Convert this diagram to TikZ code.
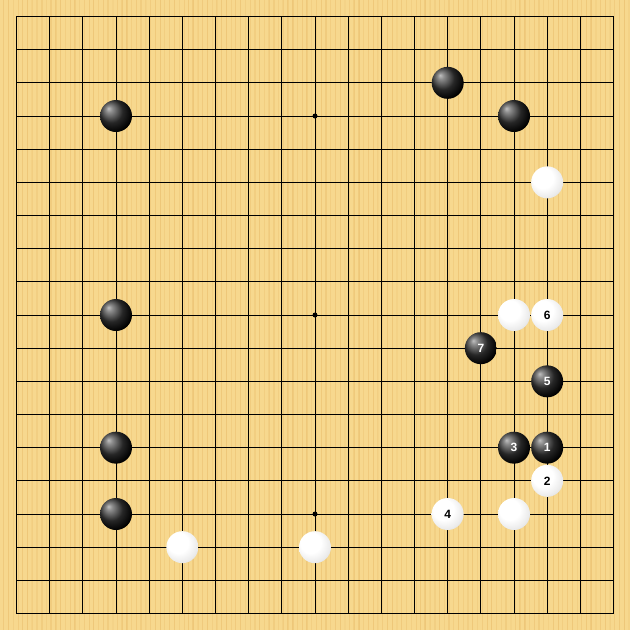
\documentclass[tikz,border=0pt]{standalone}
\usepackage{fontspec}
\setmainfont{Liberation Sans}
\definecolor{wood}{HTML}{F7D88E}
\definecolor{woodstripe}{HTML}{EEC677}
\definecolor{gridc}{HTML}{000000}
\pgfdeclareradialshading{blackstone}{\pgfpoint{-12bp}{12bp}}{color(0bp)=(black!25); color(5bp)=(black!45); color(18bp)=(black!85); color(30bp)=(black); color(42bp)=(black); color(50bp)=(black!80)}
\pgfdeclareradialshading{whitestone}{\pgfpoint{-10bp}{10bp}}{color(0bp)=(white); color(16bp)=(white); color(28bp)=(black!8); color(40bp)=(black!24); color(50bp)=(black!45)}
\tikzset{
  stoneb/.style={circle, minimum size=32pt, inner sep=0pt, shading=blackstone, text=white, font=\fontsize{12}{12}\selectfont\bfseries},
  stonew/.style={circle, minimum size=32pt, inner sep=0pt, shading=whitestone, text=black, font=\fontsize{12}{12}\selectfont\bfseries},
  gridline/.style={draw=gridc, line width=1pt},
  hoshi/.style={circle, fill=gridc, minimum size=5pt, inner sep=0pt}
}
\begin{document}
\begin{tikzpicture}[x=1pt,y=-1pt]
\useasboundingbox (0,0) rectangle (630,630);
\fill[wood] (0,0) rectangle (630,630);
% wood grain
\foreach \i in {0,...,260}{
  \pgfmathsetmacro{\xx}{mod(\i*47.37+13,630)}
  \pgfmathsetmacro{\ww}{0.4+mod(\i*7,5)*0.25}
  \pgfmathsetmacro{\oo}{0.25+mod(\i*13,7)*0.07}
  \draw[woodstripe, line width=\ww pt, opacity=\oo] (\xx,0) -- (\xx,630);
}
\begin{scope}[shift={(16.5,16.5)}, x=33.1667pt, y=-33.1667pt]
  \foreach \k in {1,...,17}{
    \draw[gridline] (\k,0) -- (\k,18);
    \draw[gridline] (0,\k) -- (18,\k);
  }
  \draw[draw=gridc, line width=1.6pt] (0,0) rectangle (18,18);
  \node[hoshi] (h1) at (9,3) {};
  \node[hoshi] (h2) at (9,9) {};
  \node[hoshi] (h3) at (9,15) {};
  % black stones
  \node[stoneb] (b1) at (13,2) {};
  \node[stoneb] (b2) at (3,3) {};
  \node[stoneb] (b3) at (15,3) {};
  \node[stoneb] (b4) at (3,9) {};
  \node[stoneb] (b5) at (14,10) {7};
  \node[stoneb] (b6) at (16,11) {5};
  \node[stoneb] (b7) at (3,13) {};
  \node[stoneb] (b8) at (15,13) {3};
  \node[stoneb] (b9) at (16,13) {1};
  \node[stoneb] (b10) at (3,15) {};
  % white stones
  \node[stonew] (w1) at (16,5) {};
  \node[stonew] (w2) at (15,9) {};
  \node[stonew] (w3) at (16,9) {6};
  \node[stonew] (w4) at (16,14) {2};
  \node[stonew] (w5) at (13,15) {4};
  \node[stonew] (w6) at (15,15) {};
  \node[stonew] (w7) at (5,16) {};
  \node[stonew] (w8) at (9,16) {};
\end{scope}
\end{tikzpicture}
\end{document}
